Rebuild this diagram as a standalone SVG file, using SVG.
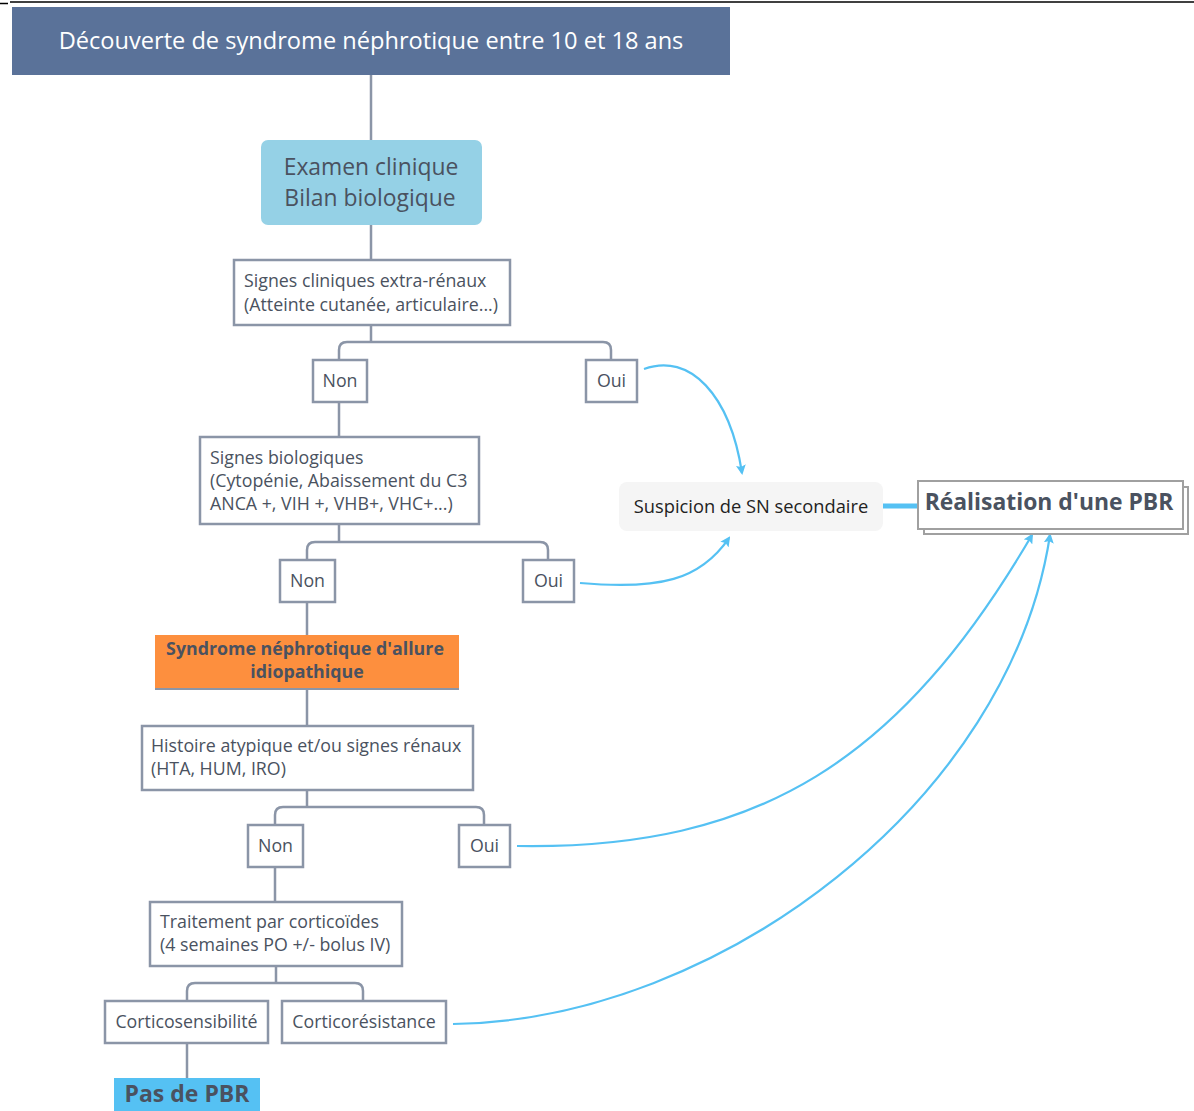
<svg xmlns="http://www.w3.org/2000/svg" width="1194" height="1111" viewBox="0 0 1194 1111">
<defs>
<style>
.t{font-family:"Open Sans","Liberation Sans",sans-serif;fill:#4a5260}
.s{font-size:17.8px}
.box{fill:#fff;stroke:#8b95a7;stroke-width:2.5}
.ln{fill:none;stroke:#8b95a7;stroke-width:2.5}
.bl{fill:none;stroke:#55c1f3;stroke-width:2.2}
</style>
<marker id="ah" markerWidth="10" markerHeight="10" refX="8" refY="5" orient="auto" markerUnits="userSpaceOnUse">
<path d="M0,0 L10,5 L0,10 L2,5 Z" fill="#55c1f3"/>
</marker>
</defs>
<rect width="1194" height="1111" fill="#fff"/>
<line x1="10" y1="2" x2="1194" y2="2" stroke="#000" stroke-width="1.5"/>
<line x1="0" y1="3.5" x2="8" y2="3.5" stroke="#000" stroke-width="1.5"/>

<g id="connectors">
<path class="ln" d="M371 75 V140 M371 225 V260 M371 325 V342"/>
<path class="ln" d="M339 360 V350 Q339 342 347 342 H603 Q611 342 611 350 V360"/>
<path class="ln" d="M339 402 V437 M339 524 V542"/>
<path class="ln" d="M307 560 V550 Q307 542 315 542 H540 Q548 542 548 550 V560"/>
<path class="ln" d="M307 602 V635 M307 690 V726 M307 790 V807"/>
<path class="ln" d="M275 825 V815 Q275 807 283 807 H476 Q484 807 484 815 V825"/>
<path class="ln" d="M275 867 V902 M276 966 V983"/>
<path class="ln" d="M187 1001 V991 Q187 983 195 983 H355 Q363 983 363 991 V1001"/>
<path class="ln" d="M187 1043 V1078"/>
<path class="bl" d="M644 369 C690 352 730 395 742 473" marker-end="url(#ah)"/>
<path class="bl" d="M580 583 C660 590 700 580 729 538" marker-end="url(#ah)"/>
<path class="bl" d="M517 846 C760 850 900 760 1032 535" marker-end="url(#ah)"/>
<path class="bl" d="M453 1024 C720 1020 1010 800 1050 535" marker-end="url(#ah)"/>
<line x1="883" y1="506" x2="919" y2="506" stroke="#55c1f3" stroke-width="5"/>
</g>

<g id="n-title">
<rect x="12" y="7" width="718" height="68" fill="#5a7299"/>
<text x="371" y="49" text-anchor="middle" font-family="Open Sans, Liberation Sans, sans-serif" font-size="23.6" fill="#fff">Découverte de syndrome néphrotique entre 10 et 18 ans</text>
</g>
<g id="n-examen">
<rect x="261" y="140" width="221" height="85" rx="7" fill="#95d1e6"/>
<text class="t" x="371" y="175" text-anchor="middle" font-size="22.9">Examen clinique</text>
<text class="t" x="370" y="206" text-anchor="middle" font-size="22.9">Bilan biologique</text>
</g>
<g id="n-signes-cliniques">
<rect class="box" x="234" y="260" width="276" height="65"/>
<text class="t s" x="244" y="287">Signes cliniques extra-rénaux</text>
<text class="t s" x="244" y="311">(Atteinte cutanée, articulaire...)</text>
</g>
<g id="n-non1">
<rect class="box" x="313" y="360" width="54" height="42"/>
<text class="t s" x="340" y="387" text-anchor="middle">Non</text>
</g>
<g id="n-oui1">
<rect class="box" x="586" y="360" width="51" height="42"/>
<text class="t s" x="611.5" y="387" text-anchor="middle">Oui</text>
</g>
<g id="n-signes-bio">
<rect class="box" x="200" y="437" width="279" height="87"/>
<text class="t s" x="210" y="464">Signes biologiques</text>
<text class="t s" x="210" y="487">(Cytopénie, Abaissement du C3</text>
<text class="t s" x="210" y="510">ANCA +, VIH +, VHB+, VHC+...)</text>
</g>
<g id="n-non2">
<rect class="box" x="280" y="560" width="55" height="42"/>
<text class="t s" x="307.5" y="587" text-anchor="middle">Non</text>
</g>
<g id="n-oui2">
<rect class="box" x="523" y="560" width="51" height="42"/>
<text class="t s" x="548.5" y="587" text-anchor="middle">Oui</text>
</g>
<g id="n-idiopathique">
<rect x="155" y="635" width="304" height="55" fill="#fd8f3e"/>
<line x1="155" y1="689" x2="459" y2="689" stroke="#8b95a7" stroke-width="2"/>
<text class="t s" x="305" y="655" text-anchor="middle" font-weight="bold">Syndrome néphrotique d'allure</text>
<text class="t s" x="307" y="678" text-anchor="middle" font-weight="bold">idiopathique</text>
</g>
<g id="n-histoire">
<rect class="box" x="142" y="726" width="331" height="64"/>
<text class="t s" x="151" y="752">Histoire atypique et/ou signes rénaux</text>
<text class="t s" x="151" y="775">(HTA, HUM, IRO)</text>
</g>
<g id="n-non3">
<rect class="box" x="248" y="825" width="55" height="42"/>
<text class="t s" x="275.5" y="852" text-anchor="middle">Non</text>
</g>
<g id="n-oui3">
<rect class="box" x="459" y="825" width="51" height="42"/>
<text class="t s" x="484.5" y="852" text-anchor="middle">Oui</text>
</g>
<g id="n-traitement">
<rect class="box" x="150" y="902" width="252" height="64"/>
<text class="t s" x="160" y="928">Traitement par corticoïdes</text>
<text class="t s" x="160" y="951">(4 semaines PO +/- bolus IV)</text>
</g>
<g id="n-corticosensibilite">
<rect class="box" x="105" y="1001" width="163" height="42"/>
<text class="t s" x="186.5" y="1028" text-anchor="middle">Corticosensibilité</text>
</g>
<g id="n-corticoresistance">
<rect class="box" x="282" y="1001" width="164" height="42"/>
<text class="t s" x="364" y="1028" text-anchor="middle">Corticorésistance</text>
</g>
<g id="n-pas-pbr">
<rect x="114" y="1078" width="146" height="33" fill="#55c1f3"/>
<text class="t" x="187" y="1102" text-anchor="middle" font-size="23" font-weight="bold">Pas de PBR</text>
</g>
<g id="n-suspicion">
<rect x="619" y="482" width="264" height="49" rx="8" fill="#f5f5f5"/>
<text x="751" y="513" text-anchor="middle" font-family="Open Sans, Liberation Sans, sans-serif" font-size="18.3" fill="#222">Suspicion de SN secondaire</text>
</g>
<g id="n-realisation">
<rect x="924" y="487" width="264" height="47" fill="#fff" stroke="#a0a0a0" stroke-width="2"/>
<rect x="918" y="481" width="265" height="48" fill="#fff" stroke="#a0a0a0" stroke-width="2"/>
<text class="t" x="1049" y="510" text-anchor="middle" font-size="22.9" font-weight="bold">Réalisation d'une PBR</text>
</g>
</svg>
